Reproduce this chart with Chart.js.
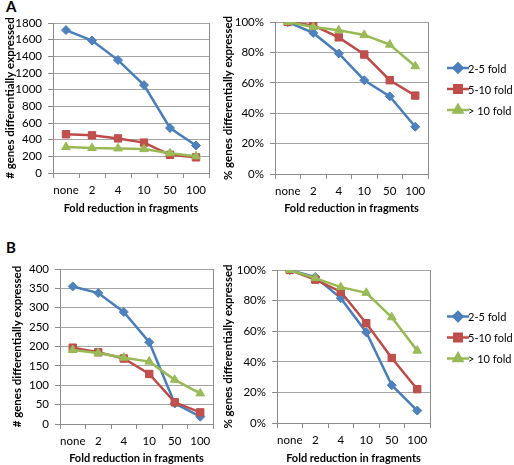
<!DOCTYPE html>
<html>
<head>
<meta charset="utf-8">
<script src="https://cdn.jsdelivr.net/npm/chart.js@4.4.0/dist/chart.umd.min.js"></script>
<style>
    body { margin: 0; background: #fff; }
    #page { position: relative; width: 514px; height: 465px; overflow: hidden; font-family: Lato, sans-serif; }
    .panel { position: absolute; }
    .letter { position: absolute; font-weight: bold; font-size: 15px; color: #000; }
</style>
</head>
<body>
<div id="page">
    <div class="letter" style="left:6px; top:-3px;">A</div>
    <div class="letter" style="left:6px; top:238px;">B</div>
    <canvas class="panel" id="chartA1" width="250" height="215" style="left:0; top:0;"></canvas>
    <canvas class="panel" id="chartA2" width="299" height="215" style="left:215px; top:0;"></canvas>
    <canvas class="panel" id="chartB1" width="250" height="235" style="left:0; top:230px;"></canvas>
    <canvas class="panel" id="chartB2" width="299" height="235" style="left:215px; top:230px;"></canvas>
</div>
<script>
// Categories (fold reduction in fragments)
const categories = ['none', '2', '4', '10', '50', '100'];
const seriesNames = ['2-5 fold', '5-10 fold', '> 10 fold'];

// Panel A - number of genes
const countA_2to5 = [1715, 1590, 1355, 1055, 540, 330];
const countA_5to10 = [465, 452, 415, 365, 218, 188];
const countA_over10 = [312, 300, 295, 287, 238, 200];

// Panel A - percentage of genes
const pctA_2to5 = [100, 92.8, 79.3, 61.7, 51.1, 31.1];
const pctA_5to10 = [100, 97.8, 89.9, 78.6, 61.7, 51.6];
const pctA_over10 = [100, 96.7, 94.5, 91.5, 85.1, 70.9];

// Panel B - number of genes
const countB_2to5 = [355, 338, 289, 211, 53, 19];
const countB_5to10 = [197, 185, 169, 129, 56, 30];
const countB_over10 = [191, 183, 171, 161, 114, 79];

// Panel B - percentage of genes
const pctB_2to5 = [100, 95.4, 81.6, 59.3, 24.7, 8.1];
const pctB_5to10 = [100, 93.7, 85.8, 65.2, 42.5, 22.1];
const pctB_over10 = [100, 94.7, 88.8, 85.1, 69.1, 47.3];

// Axis ticks
const countTicksA = { max: 1800, step: 200 };
const countTicksB = { max: 400, step: 50 };
const pctTicks = { max: 100, step: 20 };

const FONT = 'Lato, sans-serif';
const AXIS_GREY = '#8c8c8c';
const GRID_GREY = '#a4a4a4';

const seriesStyles = [
    { color: '#4a7ebb', fill: '#4f81bd', pointStyle: 'rectRot', radius: 4.5, order: 2 },
    { color: '#be4b48', fill: '#c0504d', pointStyle: 'rect', radius: 5.2, order: 1 },
    { color: '#98b954', fill: '#9bbb59', pointStyle: 'triangle', radius: 5, order: 0 }
];

// Gray frame line on the right side of the plot area
const framePlugin = {
    id: 'frame',
    beforeDatasetsDraw(chart) {
        const { ctx, chartArea } = chart;
        ctx.save();
        ctx.strokeStyle = AXIS_GREY;
        ctx.lineWidth = 1;
        ctx.beginPath();
        ctx.moveTo(Math.round(chartArea.right) + 0.5, chartArea.top);
        ctx.lineTo(Math.round(chartArea.right) + 0.5, chartArea.bottom);
        ctx.stroke();
        ctx.restore();
    }
};

// Excel-like legend (line + marker) drawn to the right of the plot
const sideLegendPlugin = {
    id: 'sideLegend',
    afterDraw(chart, args, opts) {
        if (!opts.show) return;
        const { ctx, chartArea } = chart;
        const midY = (chartArea.top + chartArea.bottom) / 2 - 9;
        const x0 = chart.width - 67;
        ctx.save();
        chart.data.datasets.forEach((ds, i) => {
            const y = midY + (i - 1) * 21;
            ctx.strokeStyle = ds.borderColor;
            ctx.lineWidth = 2.5;
            ctx.beginPath();
            ctx.moveTo(x0, y);
            ctx.lineTo(x0 + 22, y);
            ctx.stroke();
            ctx.fillStyle = ds.pointBackgroundColor;
            ctx.strokeStyle = ds.borderColor;
            Chart.helpers.drawPoint(ctx, {
                pointStyle: ds.pointStyle, radius: ds.pointRadius, rotation: 0, borderWidth: 1
            }, x0 + 11, y);
            ctx.fillStyle = '#000';
            ctx.font = '11px ' + FONT;
            ctx.textBaseline = 'middle';
            ctx.textAlign = 'left';
            ctx.fillText(ds.label, x0 + 21, y + 1);
        });
        ctx.restore();
    }
};

function buildDatasets(values) {
    return values.map((data, i) => {
        const s = seriesStyles[i];
        return {
            label: seriesNames[i],
            data: data,
            borderColor: s.color,
            backgroundColor: s.fill,
            pointBackgroundColor: s.fill,
            pointBorderColor: s.color,
            pointBorderWidth: 1,
            pointStyle: s.pointStyle,
            pointRadius: s.radius,
            borderWidth: 2.5,
            tension: 0,
            order: s.order
        };
    });
}

function createChart(id, values, opts) {
    const ctx = document.getElementById(id);
    return new Chart(ctx, {
        type: 'line',
        data: {
            labels: categories,
            datasets: buildDatasets(values)
        },
        options: {
            responsive: false,
            animation: false,
            layout: { padding: opts.padding },
            plugins: {
                legend: { display: false },
                tooltip: { enabled: false },
                sideLegend: { show: opts.legend }
            },
            scales: {
                x: {
                    offset: true,
                    grid: {
                        display: true, drawOnChartArea: false, drawTicks: true,
                        offset: true, tickLength: 5, color: AXIS_GREY
                    },
                    border: { color: AXIS_GREY },
                    ticks: {
                        color: '#000', padding: 5, maxRotation: 0, autoSkip: false,
                        font: { family: FONT, size: 11.5 }
                    },
                    title: {
                        display: true,
                        text: 'Fold reduction in fragments',
                        color: '#000',
                        font: { family: FONT, size: 11, weight: 'bold' },
                        padding: { top: 0, bottom: 0 }
                    },
                    afterFit: scale => { scale.height = opts.xHeight; }
                },
                y: {
                    min: 0,
                    max: opts.ticks.max,
                    grid: { color: GRID_GREY, tickColor: AXIS_GREY, tickLength: 5 },
                    border: { color: AXIS_GREY },
                    ticks: {
                        stepSize: opts.ticks.step,
                        autoSkip: false,
                        color: '#000',
                        padding: 6,
                        font: { family: FONT, size: 11.5 },
                        callback: v => opts.percent ? v + '%' : v
                    },
                    title: {
                        display: true,
                        text: opts.yTitle,
                        color: '#000',
                        font: { family: FONT, size: 11.5, weight: 'bold' },
                        padding: { top: opts.titlePad, bottom: 0 }
                    },
                    afterFit: scale => { scale.width = opts.yWidth; }
                }
            }
        },
        plugins: [framePlugin, sideLegendPlugin]
    });
}

// Panel A
createChart('chartA1', [countA_2to5, countA_5to10, countA_over10], {
    ticks: countTicksA, percent: false, legend: false,
    yTitle: '# genes differentially expressed',
    padding: { top: 23, right: 41, left: 0, bottom: 0 },
    yWidth: 53, xHeight: 42, titlePad: 3
});
createChart('chartA2', [pctA_2to5, pctA_5to10, pctA_over10], {
    ticks: pctTicks, percent: true, legend: true,
    yTitle: '% genes differentially expressed',
    padding: { top: 22, right: 86, left: 0, bottom: 0 },
    yWidth: 60, xHeight: 41, titlePad: 6
});

// Panel B
createChart('chartB1', [countB_2to5, countB_5to10, countB_over10], {
    ticks: countTicksB, percent: false, legend: false,
    yTitle: '# genes differentially expressed',
    padding: { top: 39, right: 37, left: 0, bottom: 0 },
    yWidth: 60, xHeight: 41, titlePad: 10
});
createChart('chartB2', [pctB_2to5, pctB_5to10, pctB_over10], {
    ticks: pctTicks, percent: true, legend: true,
    yTitle: '% genes differentially expressed',
    padding: { top: 40, right: 84, left: 0, bottom: 0 },
    yWidth: 62, xHeight: 42, titlePad: 6
});
</script>
</body>
</html>
